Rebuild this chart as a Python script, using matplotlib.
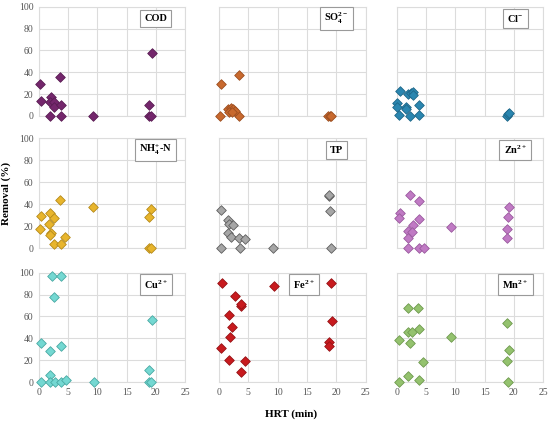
import matplotlib
matplotlib.use('Agg')
import matplotlib.pyplot as plt

# removal (%) vs HRT (min)
cod_x = [0.2, 0.4, 2.1, 1.8, 2.6, 2.6, 3.7, 3.6, 1.8, 3.7, 9.3, 19.3, 18.9, 18.9, 19.1]
cod_y = [29.6, 13.4, 17.7, 12.5, 12.5, 8.5, 9.8, 36.0, 0, 0, 0, 57.3, 9.8, 0, 0]

so4_x = [0.3, 3.5, 0.2, 3.5, 1.6, 2.0, 2.4, 2.7, 1.7, 2.3, 18.6, 18.9, 19.1]
so4_y = [29.6, 37.8, 0, 0, 6, 7, 6, 4.6, 4, 4, 0, 0, 0]

cl_x = [0.45, 1.8, 2.4, 2.7, 2.7, 0.0, 0.05, 1.5, 1.6, 3.7, 0.3, 2.2, 3.7, 18.8, 19.0, 19.2]
cl_y = [22.9, 20, 20.7, 22, 19, 11.6, 8, 8.5, 6.4, 10.4, 1.2, 0, 0.6, 0, 1.5, 2.4]

nh4_x = [0.34, 0.23, 1.8, 2.5, 1.7, 2.1, 1.8, 4.5, 3.6, 2.6, 3.7, 9.3, 19.1, 18.9, 18.9, 19.2]
nh4_y = [29, 17, 31.5, 27, 21.5, 13.3, 11.5, 10.3, 44, 3.3, 3.3, 37.3, 35.8, 28.5, 0, 0]

tp_x = [0.4, 18.75, 18.8, 18.9, 1.6, 1.75, 2.4, 1.6, 2.05, 3.5, 4.4, 0.3, 3.6, 9.2, 19.1]
tp_y = [34.7, 47.2, 48, 33.4, 25.5, 21.5, 20.9, 13.4, 10.3, 9.4, 8, 0, 0, 0, 0]

zn_x = [2.3, 3.7, 0.45, 0.34, 3.7, 2.7, 1.9, 2.6, 1.9, 9.3, 19.2, 19.0, 18.8, 18.8, 1.9, 3.8, 4.6]
zn_y = [47.9, 43, 31.9, 27, 26.4, 20.9, 15.6, 14.4, 9.4, 19, 37, 28, 16.9, 8.9, 0, 0, 0]

cu_x = [2.2, 3.7, 2.6, 0.4, 1.9, 3.8, 1.9, 0.3, 1.8, 2.7, 3.7, 4.6, 9.4, 19.3, 18.9, 18.9, 19.2]
cu_y = [97, 97, 77.8, 35.3, 28, 33.4, 6.7, 0, 0, 0.3, 0, 1.5, 0, 57, 11.2, 0, 0]

fe_x = [0.45, 9.3, 19.0, 2.7, 3.7, 3.75, 1.8, 2.2, 19.2, 1.9, 0.3, 18.75, 18.75, 1.8, 4.5, 3.75]
fe_y = [90.9, 87.8, 90.9, 79, 70, 71, 61.4, 50.5, 55.6, 41.3, 31, 36.2, 33.1, 20.4, 19.5, 9.1]

mn_x = [1.8, 3.6, 18.8, 1.8, 2.6, 3.75, 0.4, 2.2, 9.2, 19.25, 18.8, 4.5, 1.8, 3.7, 0.3, 19.0]
mn_y = [67.8, 67.8, 54, 46.2, 46.2, 48.3, 38, 35.6, 41.6, 29.5, 19.5, 18.2, 5.5, 2.1, 0, 0]

labels = ['COD', r'SO$_4^{2-}$', r'Cl$^{-}$',
          r'NH$_4^{+}$-N', 'TP', r'Zn$^{2+}$',
          r'Cu$^{2+}$', r'Fe$^{2+}$', r'Mn$^{2+}$']
xs = [cod_x, so4_x, cl_x, nh4_x, tp_x, zn_x, cu_x, fe_x, mn_x]
ys = [cod_y, so4_y, cl_y, nh4_y, tp_y, zn_y, cu_y, fe_y, mn_y]
faces = ['#74266c', '#c8692e', '#2a86b0', '#e8b52c', '#a6a6a6',
         '#c07ac4', '#74d8d2', '#c81a1e', '#94c26e']
edges = ['#5a1d54', '#9c4e20', '#1f6788', '#b58a1c', '#5e5e5e',
         '#9a5a9e', '#49a9a3', '#961216', '#6e9a4e']
label_x = [0.80, 0.80, 0.81, 0.80, 0.80, 0.81, 0.80, 0.58, 0.81]

plt.rcParams['font.family'] = ['Liberation Serif', 'DejaVu Serif']
plt.rcParams['mathtext.fontset'] = 'custom'
plt.rcParams['mathtext.rm'] = 'Liberation Serif:bold'
plt.rcParams['mathtext.bf'] = 'Liberation Serif:bold'
plt.rcParams['mathtext.default'] = 'bf'

fig = plt.figure(figsize=(5.5, 4.21), dpi=100)
lefts = [0.0709, 0.398, 0.7218]
widths = [0.2655, 0.267, 0.2655]
bottoms = [0.7245, 0.4109, 0.0926]
heights = [0.2596, 0.2613, 0.2596]

for i in range(9):
    r, c = divmod(i, 3)
    ax = fig.add_axes([lefts[c], bottoms[r], widths[c], heights[r]])
    ax.scatter(xs[i], ys[i], marker='D', s=24, c=faces[i], edgecolors=edges[i],
               linewidths=0.6, zorder=3, clip_on=False)
    ax.set_xlim(0, 25)
    ax.set_ylim(0, 100)
    ax.set_xticks(range(0, 26, 5))
    ax.set_yticks(range(0, 101, 20))
    ax.grid(True, color='#dcdcdc', linewidth=0.8)
    ax.set_axisbelow(True)
    for s in ax.spines.values():
        s.set_color('#dcdcdc')
        s.set_linewidth(0.8)
    ax.tick_params(length=0, labelsize=7, colors='#555555', pad=4)
    if c != 0:
        ax.set_yticklabels([])
    if r != 2:
        ax.set_xticklabels([])
    ax.text(label_x[i], 0.89, labels[i], transform=ax.transAxes, ha='center', va='center',
            fontsize=7.5, fontweight='bold',
            bbox=dict(boxstyle='square,pad=0.4', facecolor='white', edgecolor='#9a9a9a',
                      linewidth=0.8))

fig.text(0.012, 0.54, 'Removal (%)', rotation=90, ha='center', va='center',
         fontsize=8, fontweight='bold')
fig.text(0.53, 0.017, 'HRT (min)', ha='center', va='center', fontsize=8, fontweight='bold')

fig.savefig('out.png', dpi=100)
